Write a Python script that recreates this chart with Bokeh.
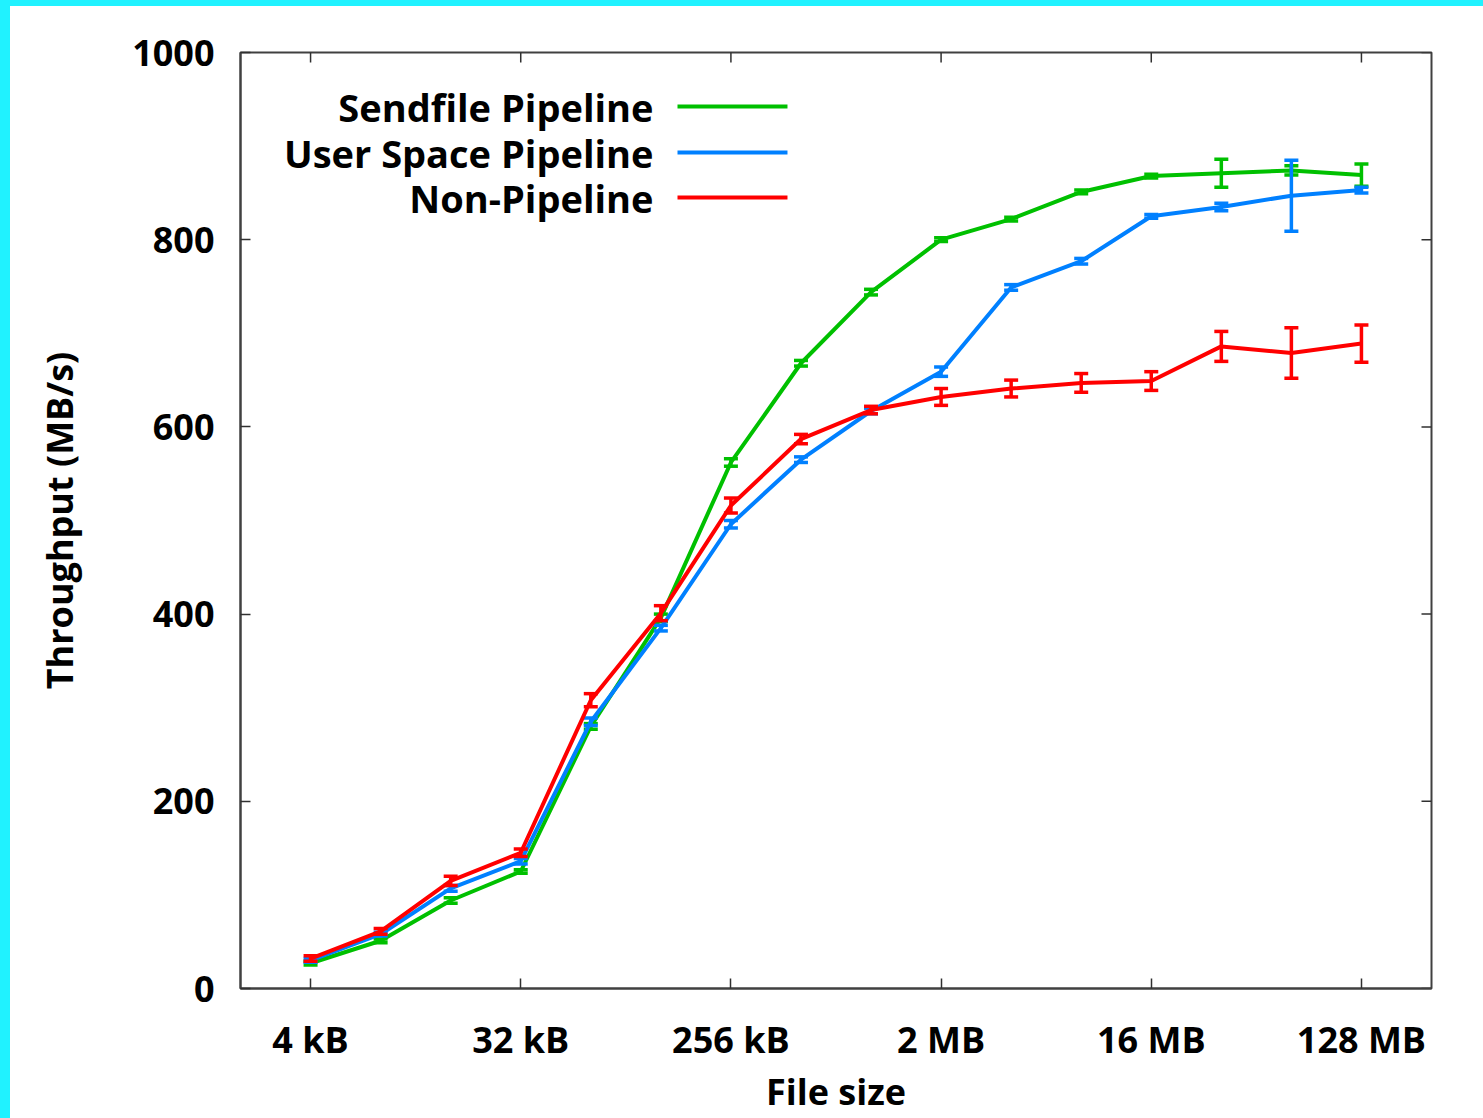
import math
from bokeh.plotting import figure
from bokeh.models import Range1d, FixedTicker, ColumnDataSource, Div
from bokeh.layouts import column, row
from bokeh.embed import file_html
from bokeh.resources import INLINE
from bokeh.core.properties import value

# ---------------- data ----------------
file_sizes_kb = [4, 8, 16, 32, 64, 128, 256, 512, 1024, 2048, 4096, 8192,
                 16384, 32768, 65536, 131072]
tick_values_kb = [4, 32, 256, 2048, 16384, 131072]
tick_labels = ["4 kB", "32 kB", "256 kB", "2 MB", "16 MB", "128 MB"]
y_ticks = [0, 200, 400, 600, 800, 1000]

series_names = ["Sendfile Pipeline", "User Space Pipeline", "Non-Pipeline"]
sendfile = [27, 51, 94, 125, 280, 396, 562, 668, 744, 800, 822, 851, 868, 871, 874, 869]
sendfile_err = [2, 2, 3, 2, 3, 4, 4, 3, 3, 2, 2, 2, 2, 15, 5, 12]
userspace = [30, 58, 107, 136, 285, 385, 496, 565, 617, 659, 749, 777, 825, 835, 847, 853]
userspace_err = [2, 2, 3, 3, 4, 3, 4, 3, 3, 5, 3, 3, 2, 4, 38, 3]
nonpipe = [32, 61, 115, 145, 308, 401, 516, 587, 618, 632, 641, 647, 649, 686, 679, 689]
nonpipe_err = [3, 3, 5, 4, 7, 8, 8, 5, 4, 9, 9, 10, 10, 16, 27, 20]

colors = ["#00C000", "#0080FF", "#FF0000"]
FONT = "Open Sans"
CYAN = "#20F2FF"
X_MIN, X_MAX = 2, 262144
Y_MIN, Y_MAX = 0, 1000

# ---------------- figure ----------------
W, H = 1473, 1112
p = figure(width=W, height=H, output_backend="svg", toolbar_location=None,
           x_axis_type="log", x_range=Range1d(X_MIN, X_MAX), y_range=Range1d(Y_MIN, Y_MAX),
           min_border_left=230, min_border_right=52, min_border_top=46, min_border_bottom=130,
           background_fill_color="white", border_fill_color="white")
p.grid.visible = False
p.outline_line_color = "#404040"
p.outline_line_width = 2

# helpers converting reference pixel layout positions to data coordinates
def px2x(px):
    return 4 * 2 ** ((px - 309) / 70.07)

def py2y(py):
    return (988 - py) / 0.936

axis_style = dict(axis_line_color="#404040", axis_line_width=2,
                  major_tick_line_color="#303030", major_tick_line_width=1.5,
                  major_tick_in=10, major_tick_out=0,
                  minor_tick_line_color=None)

xa = p.xaxis[0]
xa.ticker = FixedTicker(ticks=tick_values_kb)
xa.major_label_overrides = {v: l for v, l in zip(tick_values_kb, tick_labels)}
xa.major_label_text_font = FONT
xa.major_label_text_font_style = "bold"
xa.major_label_text_font_size = "36px"
xa.major_label_text_color = "black"
xa.major_label_standoff = 26
xa.axis_label = "File size"
xa.axis_label_text_font = FONT
xa.axis_label_text_font_style = "bold"
xa.axis_label_text_font_size = "36px"
xa.axis_label_text_color = "black"
xa.axis_label_standoff = 0
for k, v in axis_style.items():
    setattr(xa, k, v)

ya = p.yaxis[0]
ya.ticker = FixedTicker(ticks=y_ticks)
ya.major_label_text_font = FONT
ya.major_label_text_font_style = "bold"
ya.major_label_text_font_size = "36px"
ya.major_label_text_color = "black"
ya.major_label_standoff = 26
ya.axis_label = "Throughput (MB/s)"
ya.axis_label_text_font = FONT
ya.axis_label_text_font_style = "bold"
ya.axis_label_text_font_size = "36px"
ya.axis_label_text_color = "black"
ya.axis_label_standoff = 45
for k, v in axis_style.items():
    setattr(ya, k, v)

# mirrored inward ticks on right and top border (clipped half of a dash marker)
p.scatter(x=[X_MAX] * len(y_ticks), y=y_ticks, marker="dash", size=20,
          line_color="#303030", line_width=1.5)
p.scatter(x=tick_values_kb, y=[Y_MAX] * len(tick_values_kb), marker="dash", size=20,
          angle=math.pi / 2, line_color="#303030", line_width=1.5)

# ---------------- series ----------------
all_vals = [sendfile, userspace, nonpipe]
all_errs = [sendfile_err, userspace_err, nonpipe_err]
for vals, errs, col in zip(all_vals, all_errs, colors):
    src = ColumnDataSource(dict(
        x=file_sizes_kb, y=vals,
        lo=[v - e for v, e in zip(vals, errs)],
        hi=[v + e for v, e in zip(vals, errs)]))
    p.line("x", "y", source=src, line_color=col, line_width=4)
    p.segment(x0="x", y0="lo", x1="x", y1="hi", source=src, line_color=col, line_width=3.5)
    p.scatter("x", "lo", source=src, marker="dash", size=14, line_color=col, line_width=3.5)
    p.scatter("x", "hi", source=src, marker="dash", size=14, line_color=col, line_width=3.5)

# ---------------- legend (label left of sample line) ----------------
leg_py = [106, 152, 197]
leg_src = ColumnDataSource(dict(
    tx=[px2x(652)] * 3, ty=[py2y(v) for v in leg_py], text=series_names,
    x0=[px2x(676)] * 3, x1=[px2x(786)] * 3, c=colors))
p.text(x="tx", y="ty", text="text", source=leg_src, text_font=value(FONT),
       text_font_style="bold", text_font_size="38px", text_align="right",
       text_baseline="middle", text_color="black")
p.segment(x0="x0", y0="ty", x1="x1", y1="ty", source=leg_src, line_color="c", line_width=4)

# ---------------- page ----------------
top_band = Div(text="", width=1483, height=6, margin=0,
               styles={"background-color": CYAN})
left_band = Div(text="", width=10, height=H, margin=0,
                styles={"background-color": CYAN})
page = column(top_band, row(left_band, p, spacing=0), spacing=0)

open("out.html", "w").write(file_html(page, INLINE))
